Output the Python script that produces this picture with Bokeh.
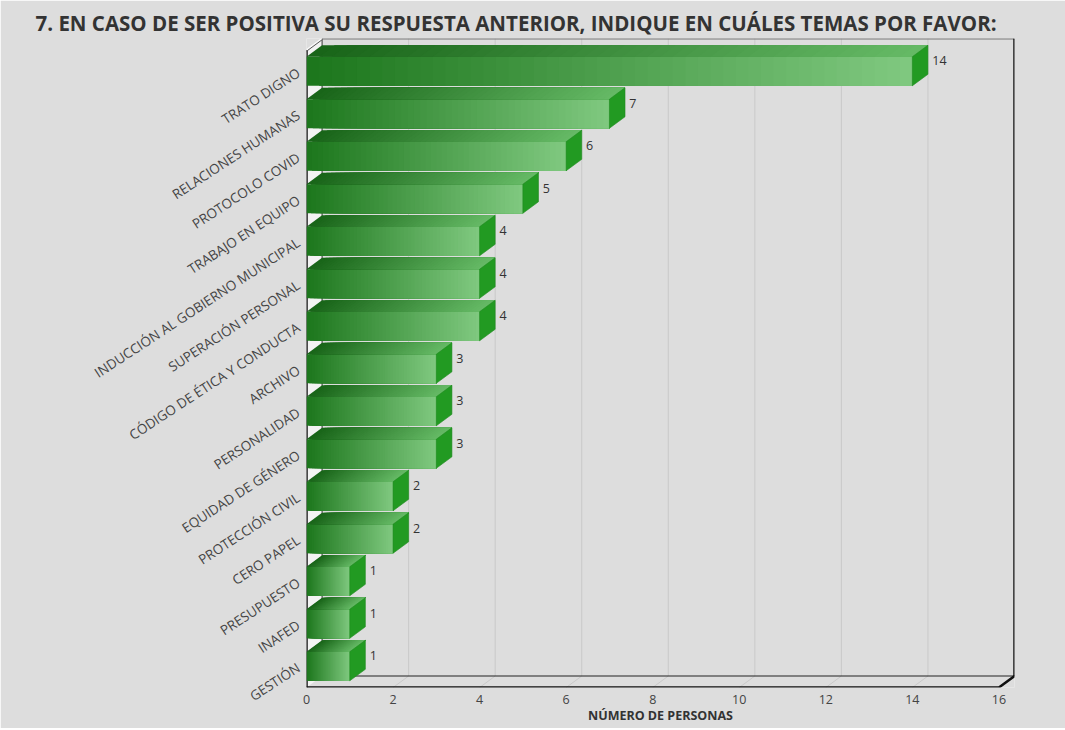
from bokeh.plotting import figure
from bokeh.models import Range1d, FixedTicker
from bokeh.core.properties import value
from bokeh.embed import file_html
from bokeh.resources import INLINE

# ---------------- data ----------------
categories = [
    "TRATO DIGNO", "RELACIONES HUMANAS", "PROTOCOLO COVID", "TRABAJO EN EQUIPO",
    "INDUCCIÓN AL GOBIERNO MUNICIPAL", "SUPERACIÓN PERSONAL",
    "CÓDIGO DE ÉTICA Y CONDUCTA", "ARCHIVO", "PERSONALIDAD", "EQUIDAD DE GÉNERO",
    "PROTECCIÓN CIVIL", "CERO PAPEL", "PRESUPUESTO", "INAFED", "GESTIÓN",
]
values = [14, 7, 6, 5, 4, 4, 4, 3, 3, 3, 2, 2, 1, 1, 1]
x_ticks = [0, 2, 4, 6, 8, 10, 12, 14, 16]
title_text = "7. EN CASO DE SER POSITIVA SU RESPUESTA ANTERIOR, INDIQUE EN CUÁLES TEMAS POR FAVOR:"
x_title = "NÚMERO DE PERSONAS"

# ---------------- style / geometry ----------------
DX, DY = 0.36, 0.27        # 3D depth offsets in data units
HALF = 0.342               # half height of a bar's front face
NS = 48                    # gradient steps
XMAX = x_ticks[-1]
n = len(categories)
YTOP = n + DY
FONT = "Open Sans"
BG = "#dddddd"

def lerp(c0, c1, t):
    return "#%02x%02x%02x" % tuple(int(round(a + (b - a) * t)) for a, b in zip(c0, c1))

FRONT0, FRONT1 = (28, 118, 28), (128, 201, 128)
TOP0, TOP1 = (24, 100, 24), (102, 186, 102)
SIDE = "#229a22"

p = figure(width=1065, height=728, output_backend="svg", toolbar_location=None,
           x_range=Range1d(0, XMAX + DX), y_range=Range1d(0, YTOP),
           min_border_left=306, min_border_right=51, min_border_top=38,
           min_border_bottom=41)
p.background_fill_color = BG
p.border_fill_color = BG
p.outline_line_color = None
p.xgrid.visible = False
p.ygrid.visible = False

# title
p.title.text = title_text
p.title.text_font = FONT
p.title.text_font_size = "20.5px"
p.title.text_font_style = "bold"
p.title.text_color = "#333333"
p.title.align = "left"
p.title.offset = -271
p.title.standoff = 4

# x axis
xa = p.xaxis[0]
xa.ticker = FixedTicker(ticks=x_ticks)
xa.axis_line_color = None
xa.major_tick_line_color = None
xa.minor_tick_line_color = None
xa.major_tick_out = 0
xa.major_tick_in = 0
xa.major_label_standoff = 7
xa.major_label_text_font = FONT
xa.major_label_text_font_size = "12.5px"
xa.major_label_text_color = "#444444"
xa.axis_label = x_title
xa.axis_label_text_font = FONT
xa.axis_label_text_font_size = "12.5px"
xa.axis_label_text_font_style = "bold"
xa.axis_label_text_color = "#333333"
xa.axis_label_standoff = 0

# y axis
centers = [n - i - 0.5 for i in range(n)]
ya = p.yaxis[0]
ya.ticker = FixedTicker(ticks=centers)
ya.major_label_overrides = {c: lab for c, lab in zip(centers, categories)}
ya.axis_line_color = None
ya.major_tick_line_color = None
ya.minor_tick_line_color = None
ya.major_tick_out = 0
ya.major_tick_in = 0
ya.major_label_standoff = 8
ya.major_label_orientation = 0.58
ya.major_label_text_font = FONT
ya.major_label_text_font_size = "13.5px"
ya.major_label_text_color = "#444444"

# ---------------- 3D frame ----------------
p.patch([0, DX, DX, 0], [0, DY, YTOP, n], fill_color="#f3f3f3", line_color=None)
for t in x_ticks[1:-1]:
    p.line([t + DX, t + DX], [DY, YTOP], line_color="#c9c9c9", line_width=1)
    p.line([t, t + DX], [0, DY], line_color="#c9c9c9", line_width=1)
p.line([XMAX, XMAX + DX], [0, DY], line_color="#c9c9c9", line_width=1)
p.line([DX, XMAX + DX], [YTOP, YTOP], line_color="#777777", line_width=2)
p.line([XMAX + DX, XMAX + DX], [DY, YTOP], line_color="#111111", line_width=2.5)
p.line([DX, XMAX + DX], [DY, DY], line_color="#222222", line_width=1.2)
p.line([DX, DX], [DY, YTOP], line_color="#333333", line_width=1)
p.line([0, XMAX, XMAX + DX], [0, 0, DY], line_color="#111111", line_width=2.5)
p.line([0, 0], [0, n], line_color="#111111", line_width=2.5)
p.line([0, DX], [n, YTOP], line_color="#f8f8f8", line_width=1.5)
p.line([0, DX], [n - 0.03, YTOP - 0.03], line_color="#555555", line_width=1)

# ---------------- bars (gradient as overlapping steps) ----------------
fl, fr, fb, ft, fc = [], [], [], [], []
txs, tys, tcs = [], [], []
sxs, sys_ = [], []
for c, v in zip(centers, values):
    bot, top = c - HALF, c + HALF
    for k in range(NS):
        x0 = v * k / NS
        t = (k + 0.5) / NS
        fl.append(x0); fr.append(v); fb.append(bot); ft.append(top)
        fc.append(lerp(FRONT0, FRONT1, t))
        txs.append([x0, v, v + DX, x0 + DX])
        tys.append([top, top, top + DY, top + DY])
        tcs.append(lerp(TOP0, TOP1, t))
    sxs.append([v, v + DX, v + DX, v])
    sys_.append([bot, bot + DY, top + DY, top])

p.quad(left=fl, right=fr, bottom=fb, top=ft, fill_color=fc, line_color=None)
p.patches(txs, tys, fill_color=tcs, line_color=None)
p.patches(sxs, sys_, fill_color=SIDE, line_color="#1e8a1e", line_width=0.6)

p.text(x=[v + DX + 0.1 for v in values], y=[c + 0.25 for c in centers],
       text=[str(v) for v in values], text_font=value(FONT),
       text_font_size="12.5px", text_color="#333333",
       text_align="left", text_baseline="middle")

open("out.html", "w").write(file_html(p, INLINE))
